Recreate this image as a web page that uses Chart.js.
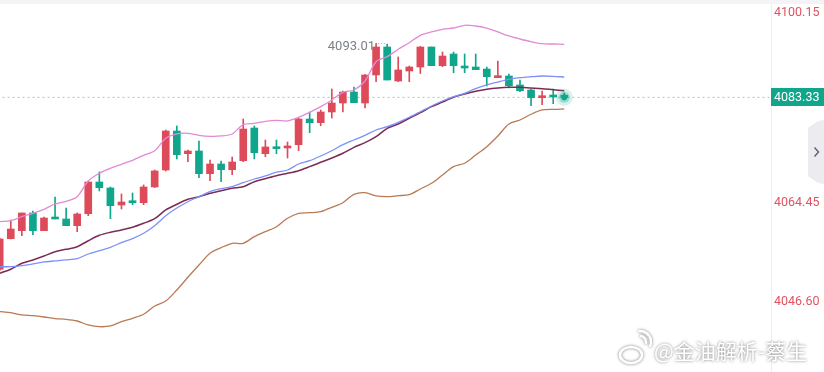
<!DOCTYPE html>
<html>
<head>
<meta charset="utf-8">
<script src="https://cdn.jsdelivr.net/npm/chart.js@4.4.1/dist/chart.umd.min.js"></script>
<style>
  html, body { margin: 0; padding: 0; background: #fff; }
  #wrap { width: 824px; height: 372px; position: relative; }
</style>
</head>
<body>
<div id="wrap"><canvas id="kChart" width="824" height="372"></canvas></div>
<script>
// --- CANDLES (OHLC) ---
const openP = [4052.52, 4058.00, 4059.44, 4062.61, 4059.44, 4061.77, 4061.53, 4060.33, 4062.48, 4068.16,
  4067.09, 4064.04, 4064.58, 4064.45, 4067.27, 4070.31, 4077.30, 4073.24, 4073.72, 4069.65,
  4071.39, 4070.37, 4071.98, 4077.84, 4073.24, 4074.44, 4074.26, 4074.85, 4079.45, 4078.79,
  4080.71, 4082.32, 4084.29, 4082.32, 4087.34, 4092.36, 4086.26, 4088.06, 4088.77, 4092.36,
  4089.01, 4091.10, 4088.77, 4088.77, 4088.41, 4086.86, 4087.16, 4085.55, 4084.65, 4083.27,
  4083.58, 4083.40];
const highP = [4058.13, 4061.35, 4062.61, 4062.97, 4061.89, 4065.48, 4063.50, 4062.61, 4068.34, 4069.96,
  4067.27, 4066.01, 4066.19, 4067.63, 4070.31, 4077.48, 4078.20, 4073.90, 4075.51, 4072.11,
  4071.93, 4072.64, 4079.45, 4078.20, 4075.69, 4075.69, 4075.33, 4079.69, 4080.71, 4081.07,
  4084.83, 4084.47, 4085.19, 4087.43, 4093.01, 4092.89, 4090.57, 4088.95, 4092.45, 4092.36,
  4091.46, 4091.46, 4091.10, 4091.10, 4088.77, 4089.85, 4087.52, 4086.44, 4084.83, 4084.47,
  4084.83, 4084.11];
const lowP = [4052.21, 4057.95, 4058.54, 4058.72, 4059.44, 4061.53, 4060.33, 4059.26, 4062.12, 4066.55,
  4061.59, 4063.33, 4064.10, 4064.10, 4067.18, 4070.14, 4072.29, 4071.80, 4068.93, 4068.40,
  4068.22, 4069.47, 4071.80, 4072.29, 4072.70, 4073.24, 4072.46, 4073.77, 4077.00, 4078.25,
  4079.63, 4080.71, 4082.38, 4081.43, 4086.14, 4086.44, 4086.17, 4086.14, 4087.61, 4089.01,
  4088.83, 4087.75, 4087.75, 4088.29, 4085.37, 4086.86, 4085.01, 4084.35, 4081.84, 4082.02,
  4082.20, 4082.86];
const closeP = [4057.95, 4059.74, 4062.61, 4059.44, 4061.71, 4061.53, 4060.33, 4062.43, 4068.16, 4067.14,
  4063.92, 4064.58, 4064.45, 4067.27, 4070.14, 4077.30, 4073.06, 4073.72, 4069.65, 4071.39,
  4070.37, 4071.75, 4077.66, 4073.41, 4074.44, 4074.13, 4074.62, 4079.45, 4078.79, 4080.71,
  4082.32, 4084.29, 4082.38, 4087.34, 4092.36, 4086.44, 4088.24, 4088.77, 4092.36, 4089.01,
  4090.74, 4089.01, 4088.59, 4088.29, 4087.03, 4086.98, 4085.42, 4084.53, 4083.27, 4083.58,
  4083.40, 4083.33];

// --- BANDAS / MEDIAS ---
const upperBand = [4061.05, 4061.23, 4061.95, 4062.55, 4063.27, 4064.22, 4064.71, 4065.53, 4068.34, 4069.72,
  4070.62, 4071.34, 4072.05, 4072.95, 4073.77, 4076.00, 4076.77, 4076.89, 4076.53, 4076.35,
  4076.41, 4076.77, 4078.43, 4078.68, 4079.04, 4079.22, 4079.10, 4079.76, 4080.65, 4081.66,
  4082.86, 4084.24, 4084.65, 4086.26, 4089.72, 4090.62, 4091.95, 4093.13, 4094.45, 4095.05,
  4095.53, 4095.76, 4096.25, 4096.12, 4095.76, 4095.05, 4094.33, 4093.79, 4093.31, 4092.95,
  4092.89, 4092.84];
const blueLine = [4052.98, 4052.98, 4053.16, 4053.47, 4053.83, 4054.01, 4054.19, 4054.42, 4055.26, 4055.85,
  4056.46, 4057.29, 4058.00, 4058.97, 4060.33, 4062.12, 4063.50, 4064.63, 4065.53, 4066.43,
  4066.96, 4067.32, 4068.04, 4068.70, 4069.24, 4069.92, 4070.31, 4071.39, 4071.98, 4072.82,
  4073.77, 4074.85, 4075.69, 4076.53, 4077.48, 4078.07, 4078.86, 4079.76, 4080.76, 4081.78,
  4082.68, 4083.45, 4084.06, 4084.88, 4085.55, 4086.08, 4086.57, 4086.86, 4087.03, 4087.16,
  4087.11, 4086.98];
const maroonLine = [4051.80, 4052.52, 4053.59, 4054.19, 4054.90, 4055.67, 4056.10, 4056.57, 4057.64, 4058.61,
  4059.15, 4059.56, 4060.05, 4060.76, 4061.59, 4063.15, 4064.17, 4065.06, 4065.53, 4066.14,
  4066.60, 4067.03, 4067.32, 4068.22, 4068.76, 4069.29, 4069.72, 4070.19, 4070.91, 4071.69,
  4072.47, 4073.31, 4074.38, 4075.21, 4076.28, 4077.79, 4078.56, 4079.58, 4080.58, 4081.66,
  4082.50, 4083.34, 4083.93, 4084.42, 4084.78, 4085.01, 4085.14, 4085.14, 4085.01, 4084.88,
  4084.70, 4084.53];
const lowerBand = [4044.92, 4044.74, 4044.33, 4044.20, 4043.97, 4043.67, 4043.56, 4043.25, 4042.54, 4042.23,
  4042.36, 4043.13, 4043.74, 4044.45, 4045.94, 4046.84, 4048.81, 4051.09, 4053.29, 4055.39,
  4056.39, 4057.18, 4057.18, 4058.36, 4059.26, 4060.15, 4061.66, 4062.55, 4062.66, 4062.84,
  4063.63, 4064.45, 4065.96, 4066.25, 4065.66, 4065.53, 4065.71, 4065.89, 4066.91, 4067.93,
  4069.42, 4070.91, 4071.52, 4073.00, 4074.49, 4076.41, 4078.56, 4079.27, 4080.30, 4081.07,
  4081.19, 4081.25];

// --- EIXO ---
const yTicks = [4046.60, 4064.45, 4082.30, 4100.15];
const lastPrice = 4083.33;
const maxHigh = 4093.01;
const maxHighIdx = 34;

const UP = '#dd4b5a';
const DOWN = '#10a68b';

const candleColors = openP.map((o, i) => closeP[i] >= o ? UP : DOWN);
const wickData = openP.map((o, i) => ({ x: i, y: [lowP[i], highP[i]] }));
const bodyData = openP.map((o, i) => ({ x: i, y: [o, closeP[i]] }));
const toPoints = arr => arr.map((v, i) => ({ x: i, y: v }));
const lastIdx = closeP.length - 1;

function lineSet(arr, color, width) {
    return {
        type: 'line',
        data: toPoints(arr),
        borderColor: color,
        borderWidth: width,
        pointRadius: 0,
        tension: 0.3,
        order: -1
    };
}

// rótulos do eixo, caixa de preço e marca d'água
const decorPlugin = {
    id: 'decor',
    afterDatasetsDraw(chart) {
        const { ctx, scales: { x, y } } = chart;
        const px = x.getPixelForValue(maxHighIdx);
        const py = y.getPixelForValue(maxHigh);
        ctx.save();
        ctx.font = '13px Roboto';
        ctx.fillStyle = '#7c808c';
        ctx.textAlign = 'right';
        ctx.textBaseline = 'middle';
        ctx.fillText(maxHigh.toFixed(2), px - 1, py + 3.5);
        ctx.strokeStyle = '#a9adb8';
        ctx.lineWidth = 1;
        ctx.setLineDash([1, 2]);
        ctx.beginPath();
        ctx.moveTo(px - 1, Math.round(py) + 0.5);
        ctx.lineTo(px + 11, Math.round(py) + 0.5);
        ctx.stroke();
        ctx.restore();
    },
    afterDraw(chart) {
        const { ctx, scales: { y } } = chart;
        ctx.save();
        // faixa cinza no topo
        ctx.fillStyle = '#f4f4f6';
        ctx.fillRect(0, 0, 824, 4);

        // rótulos do eixo (o de cima fica preso dentro do canvas)
        ctx.font = '12.5px Roboto';
        ctx.textBaseline = 'middle';
        ctx.textAlign = 'left';
        ctx.fillStyle = '#e0535f';
        yTicks.forEach(v => {
            const ty = Math.max(y.getPixelForValue(v), 13);
            ctx.fillText(v.toFixed(2), 774, ty);
        });

        // caixa do último preço
        const py = y.getPixelForValue(lastPrice);
        ctx.fillStyle = '#10a68b';
        ctx.fillRect(771, Math.round(py) - 9, 53, 18);
        ctx.fillStyle = '#ffffff';
        ctx.fillText(lastPrice.toFixed(2), 774, Math.round(py) + 0.5);

        // aba lateral
        ctx.fillStyle = '#ebebf0';
        ctx.beginPath();
        ctx.moveTo(824, 120);
        ctx.lineTo(818, 121);
        ctx.lineTo(808, 128);
        ctx.lineTo(808, 176);
        ctx.lineTo(818, 183);
        ctx.lineTo(824, 184);
        ctx.closePath();
        ctx.fill();
        ctx.strokeStyle = '#5c6070';
        ctx.lineWidth = 1.4;
        ctx.beginPath();
        ctx.moveTo(814.5, 147.5);
        ctx.lineTo(818.5, 152);
        ctx.lineTo(814.5, 156.5);
        ctx.stroke();

        // marca d'água
        ctx.shadowColor = 'rgba(0,0,0,0.55)';
        ctx.shadowBlur = 3;
        ctx.strokeStyle = '#ffffff';
        ctx.lineWidth = 2.5;
        ctx.beginPath();
        ctx.ellipse(631, 355, 11, 8, 0, 0, Math.PI * 2);
        ctx.stroke();
        ctx.beginPath();
        ctx.arc(640, 342, 6, -Math.PI * 0.5, Math.PI * 0.1);
        ctx.stroke();
        ctx.beginPath();
        ctx.arc(640, 342, 11, -Math.PI * 0.55, Math.PI * 0.15);
        ctx.stroke();
        ctx.fillStyle = '#ffffff';
        ctx.font = '21px "Noto Sans CJK SC"';
        ctx.textAlign = 'left';
        ctx.textBaseline = 'middle';
        ctx.fillText('@金油解析-蔡生', 654, 351);
        ctx.restore();
    }
};

const ctx = document.getElementById('kChart').getContext('2d');
const kChart = new Chart(ctx, {
    data: {
        datasets: [
            // ponto de preço atual com brilho
            { type: 'scatter', data: [{ x: lastIdx, y: lastPrice }], pointRadius: 3, backgroundColor: DOWN, borderWidth: 0, order: -4 },
            { type: 'scatter', data: [{ x: lastIdx, y: lastPrice }], pointRadius: 5.5, backgroundColor: 'rgba(16,166,139,0.30)', borderWidth: 0, order: -3 },
            { type: 'scatter', data: [{ x: lastIdx, y: lastPrice }], pointRadius: 8.5, backgroundColor: 'rgba(16,166,139,0.16)', borderWidth: 0, order: -2 },
            lineSet(upperBand, '#e28ad6', 1.3),
            lineSet(blueLine, '#7d91f6', 1.3),
            lineSet(maroonLine, '#7a2c55', 1.5),
            lineSet(lowerBand, '#b97a55', 1.3),
            {
                type: 'bar',
                data: bodyData,
                backgroundColor: candleColors,
                barThickness: 7,
                minBarLength: 2,
                grouped: false,
                order: 1
            },
            {
                type: 'bar',
                data: wickData,
                backgroundColor: candleColors,
                barThickness: 1,
                minBarLength: 1,
                grouped: false,
                order: 2
            },
            {
                type: 'line',
                data: [{ x: -2, y: lastPrice }, { x: 72, y: lastPrice }],
                borderColor: '#8ed3c5',
                borderWidth: 1,
                borderDash: [2, 3],
                pointRadius: 0,
                order: 3
            }
        ]
    },
    options: {
        responsive: false,
        animation: false,
        devicePixelRatio: 1,
        layout: { padding: 0, autoPadding: false },
        plugins: { legend: { display: false }, tooltip: { enabled: false } },
        scales: {
            x: {
                type: 'linear',
                offset: false,
                min: 0.027,
                max: 69.675,
                display: false
            },
            y: {
                position: 'right',
                min: 4034.11,
                max: 4100.78,
                grid: { display: false, drawTicks: false },
                border: { display: true, color: '#eceef2' },
                ticks: { display: false },
                afterFit: s => { s.width = 53; }
            }
        }
    },
    plugins: [decorPlugin]
});
</script>
</body>
</html>
